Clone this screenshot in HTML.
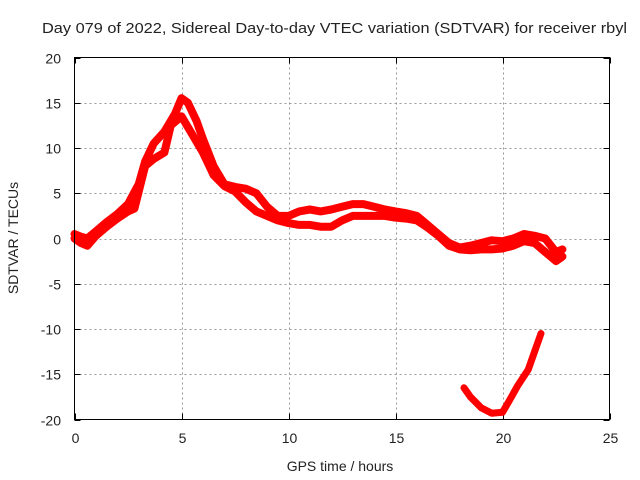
<!DOCTYPE html>
<html><head><meta charset="utf-8"><style>body{margin:0;background:#fff}svg{display:block}text{font-family:"Liberation Sans",sans-serif;fill:#222}</style></head>
<body>
<svg id="chart" width="640" height="480" viewBox="0 0 640 480" xmlns="http://www.w3.org/2000/svg">
<text x="42" y="33" font-size="14.5" textLength="585" lengthAdjust="spacingAndGlyphs">Day 079 of 2022, Sidereal Day-to-day VTEC variation (SDTVAR) for receiver rbyl</text>
<g id="grid"></g>
<g id="axes"></g>
<g id="series"></g>
<rect x="74.5" y="57.5" width="535" height="362" fill="none" stroke="#000" stroke-width="1"/>
<text x="340" y="471" font-size="14" text-anchor="middle">GPS time / hours</text>
<text transform="translate(18,238) rotate(-90)" font-size="14" text-anchor="middle">SDTVAR / TECUs</text>
</svg>
<script>
const xTicks=[0,5,10,15,20,25];
const yTicks=[20,15,10,5,0,-5,-10,-15,-20];
const hoursA=[0,0.3,0.6,1,1.5,2,2.5,3,3.3,3.7,4.2,4.7,5,5.3,5.7,6,6.5,7,7.5,8,8.5,9,9.5,10,10.5,11,11.5,12,12.5,13,13.5,14,14.5,15,15.5,16,16.5,17,17.5,18,18.5,19,19.5,20,20.5,21,21.5,22,22.5,22.8];
const valsA=[0.5,0.2,0,0.8,1.8,2.7,3.8,6,8.5,10.5,11.8,13.8,15.5,15,13,11,8,6,5.7,5.5,5,3.5,2.5,2.5,3,3.2,3,3.2,3.5,3.8,3.8,3.5,3.2,3,2.8,2.5,1.5,0.5,-0.5,-1,-0.8,-0.5,-0.2,-0.3,0,0.5,0.3,0,-1.5,-1.2];
const hoursB=[0,0.3,0.6,1,1.5,2,2.5,2.8,3.3,3.7,4.2,4.5,5,5.5,6,6.5,7,7.5,8,8.5,9,9.5,10,10.5,11,11.5,12,12.5,13,13.5,14,14.5,15,15.5,16,16.5,17,17.5,18,18.5,19,19.5,20,20.5,21,21.5,22,22.5,22.8];
const valsB=[0,-0.5,-0.8,0.3,1.3,2.2,3,3.3,8,8.8,9.5,12.5,13.5,11.5,9.5,7,5.8,5.2,4,3,2.5,2,1.7,1.5,1.5,1.3,1.3,2,2.5,2.5,2.5,2.5,2.3,2.2,2,1.2,0.3,-0.8,-1.2,-1.3,-1.2,-1.2,-1.1,-0.8,-0.3,-0.5,-1.5,-2.5,-2];
const hoursC=[18.2,18.5,19,19.5,20,20.3,20.7,21.2,21.5,21.8];
const valsC=[-16.5,-17.5,-18.7,-19.3,-19.2,-18,-16.3,-14.5,-12.5,-10.5];
const NS="http://www.w3.org/2000/svg";
const X0=74.5,X1=609.5,Y0=419.5,Y1=57.5;
const sx=v=>X0+(v-0)/(25-0)*(X1-X0);
const sy=v=>Y0-(v+20)/40*(Y0-Y1);
function mk(tag,attrs,parent){const e=document.createElementNS(NS,tag);for(const k in attrs)e.setAttribute(k,attrs[k]);parent.appendChild(e);return e;}
const grid=document.getElementById('grid'),axes=document.getElementById('axes'),ser=document.getElementById('series');
xTicks.forEach(t=>{const x=Math.round(sx(t))+0.5;
 if(t>0&&t<25){const g=mk('line',{x1:x,x2:x,y1:Y1,y2:Y0,stroke:'#999','stroke-dasharray':'2,3'},grid);}
 const tk=mk('path',{d:`M${x} ${Y0}v-6M${x} ${Y1}v6`,stroke:'#000'},axes);
 const l=mk('text',{x:x,y:443,'font-size':14,'text-anchor':'middle'},axes);l.textContent=t;});
yTicks.forEach(t=>{const y=Math.round(sy(t))+0.5;
 if(t>-20&&t<20){const g=mk('line',{x1:X0,x2:X1,y1:y,y2:y,stroke:'#999','stroke-dasharray':'2,3'},grid);}
 const tk=mk('path',{d:`M${X0} ${y}h6M${X1} ${y}h-6`,stroke:'#000'},axes);
 const l=mk('text',{x:61,y:y+5,'font-size':14,'text-anchor':'end'},axes);l.textContent=t;});
function series(hs,vs,name,w){
 const pts=hs.map((h,i)=>sx(h).toFixed(1)+','+sy(vs[i]).toFixed(1)).join(' ');
 const p=mk('polyline',{points:pts,fill:'none',stroke:'#f00','stroke-width':w,'stroke-linejoin':'round','stroke-linecap':'round'},ser);
 
}
series(hoursA,valsA,'sdtvar-trace-upper',8);
series(hoursB,valsB,'sdtvar-trace-lower',8);
series(hoursC,valsC,'sdtvar-trace-bottom',7);
</script>
</body></html>
